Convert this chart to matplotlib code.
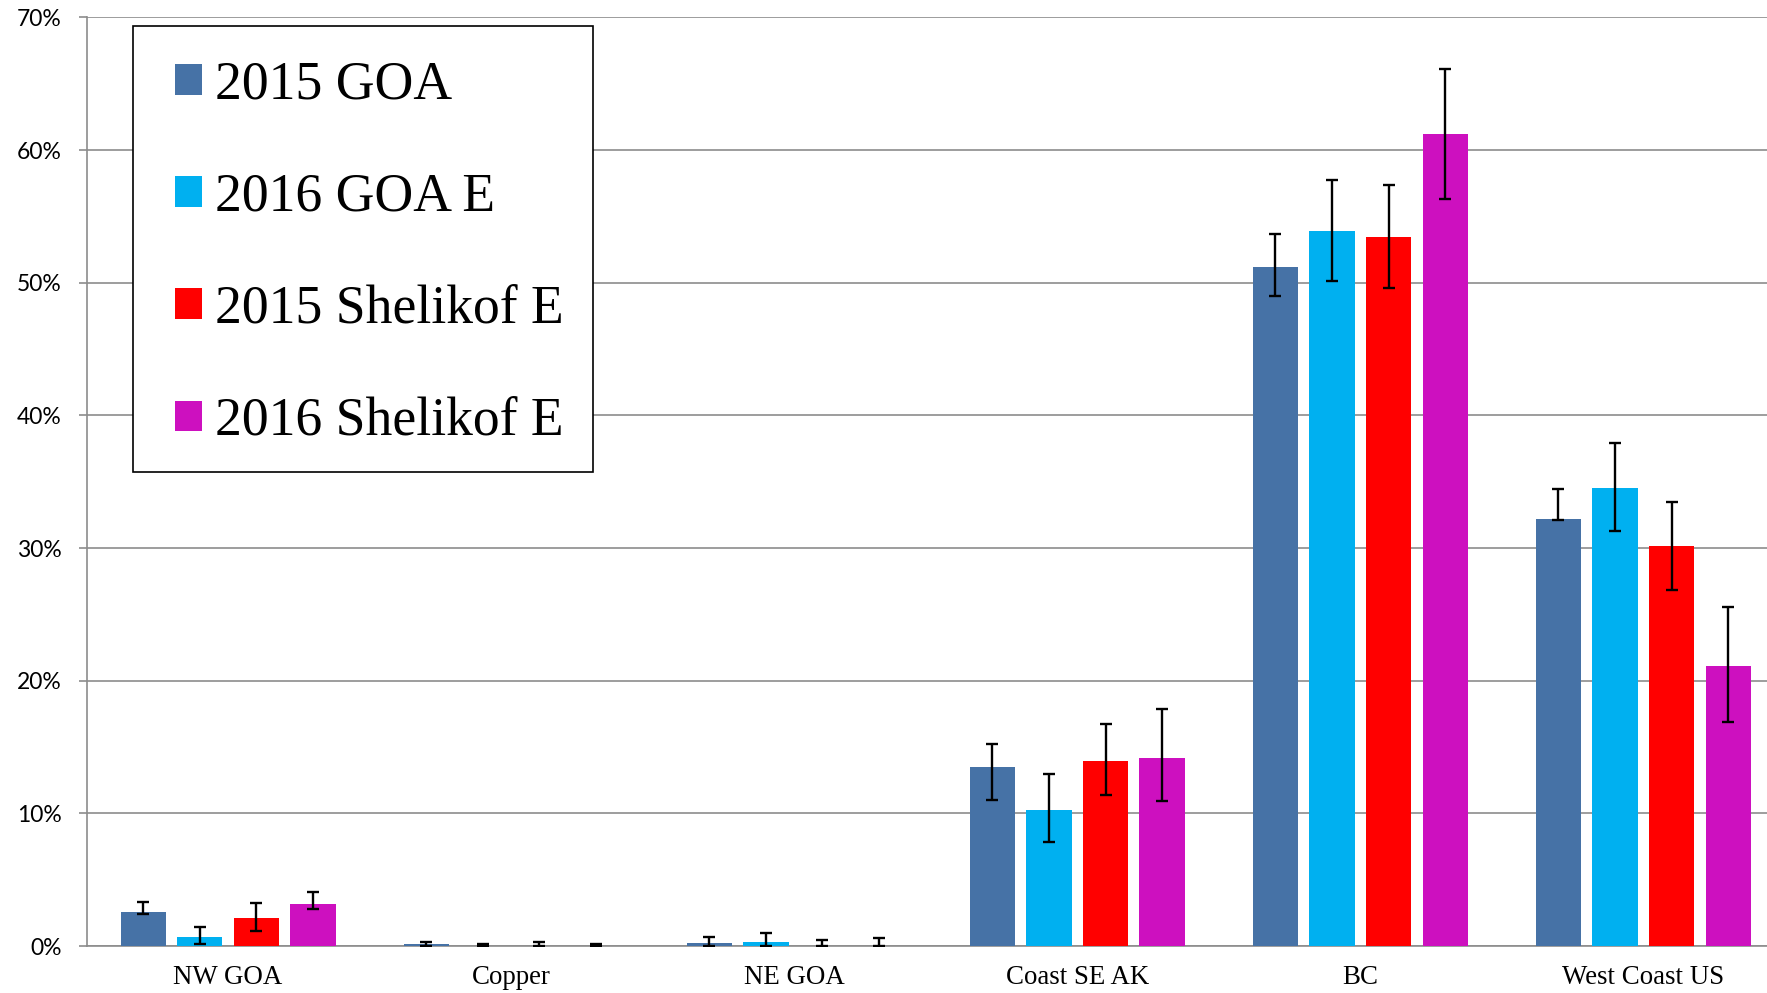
import matplotlib.pyplot as plt
import matplotlib.ticker as mticker
import matplotlib.patches as mpatches
import numpy as np

# data (percent)
regions = ["NW GOA", "Copper", "NE GOA", "Coast SE AK", "BC", "West Coast US"]
series = ["2015 GOA", "2016 GOA E", "2015 Shelikof E", "2016 Shelikof E"]

goa_2015 = [2.54, 0.13, 0.20, 13.50, 51.17, 32.19]
goa_2016 = [0.68, 0.02, 0.30, 10.29, 53.90, 34.54]
shel_2015 = [2.08, 0.01, 0.02, 13.98, 53.48, 30.13]
shel_2016 = [3.16, 0.02, 0.00, 14.18, 61.22, 21.12]

# asymmetric error bars (minus, plus)
goa_2015_err = [[0.11, 0.13, 0.20, 2.51, 2.17, 0.05],
                [0.80, 0.20, 0.50, 1.76, 2.48, 2.26]]
goa_2016_err = [[0.51, 0.02, 0.30, 2.41, 3.74, 3.23],
                [0.77, 0.13, 0.65, 2.68, 3.83, 3.38]]
shel_2015_err = [[0.95, 0.01, 0.02, 2.59, 3.88, 3.31],
                 [1.16, 0.29, 0.41, 2.79, 3.89, 3.36]]
shel_2016_err = [[0.37, 0.02, 0.00, 3.24, 4.88, 4.26],
                 [0.93, 0.16, 0.62, 3.67, 4.88, 4.41]]

values = [goa_2015, goa_2016, shel_2015, shel_2016]
errors = [goa_2015_err, goa_2016_err, shel_2015_err, shel_2016_err]
colors = ["#4672A6", "#00B0F0", "#FF0000", "#CD10BF"]

W, H = 1767, 993
fig = plt.figure(figsize=(W / 100, H / 100), dpi=100)
ax = fig.add_axes([0.049, 0.0473, 0.951, 0.9351])

x = np.arange(len(regions))
width = 0.16
pitch = 0.2
for i, (vals, err, col, lab) in enumerate(zip(values, errors, colors, series)):
    pos = x + (i - 1.5) * pitch
    ax.bar(pos, vals, width, color=col, label=lab, zorder=3)
    ax.errorbar(pos, vals, yerr=np.array(err), fmt='none', ecolor='black',
                elinewidth=1.7, capsize=4.5, capthick=1.7, zorder=4)

ax.set_ylim(0, 70)
ax.set_xlim(-0.5, 5.437)
ax.yaxis.set_major_locator(mticker.MultipleLocator(10))
ax.yaxis.set_major_formatter(mticker.FuncFormatter(lambda v, p: f"{v:.0f}%"))
ax.grid(axis='y', color='#8C8C8C', linewidth=1.2, zorder=0)

for s in ['top', 'right']:
    ax.spines[s].set_visible(False)
for s in ['left', 'bottom']:
    ax.spines[s].set_color('#8C8C8C')
    ax.spines[s].set_linewidth(1.2)

ax.tick_params(axis='y', length=6, width=1.2, color='#8C8C8C', pad=12)
ax.tick_params(axis='x', length=0, pad=14)
ax.set_xticks(x)
ax.set_xticklabels(regions, family='Liberation Serif', fontsize=19.4)
for t in ax.get_yticklabels():
    t.set_family('Lato')
    t.set_fontsize(16.5)

# legend box drawn by hand so the padding matches
box = mpatches.Rectangle((133 / W, 1 - 472 / H), (593 - 133) / W, (472 - 26) / H,
                         transform=fig.transFigure, facecolor='white',
                         edgecolor='black', linewidth=1.2, zorder=5)
fig.add_artist(box)
handles, labels = ax.get_legend_handles_labels()
leg = fig.legend(handles, labels, loc='upper left', bbox_to_anchor=(175 / W, 1 - 60 / H),
                 prop={'family': 'Liberation Serif', 'size': 38.6},
                 handlelength=0.5, handleheight=0.5, handletextpad=0.25,
                 labelspacing=1.15, borderpad=0, borderaxespad=0, frameon=False)
leg.set_zorder(6)

fig.savefig("out.png", dpi=100)
